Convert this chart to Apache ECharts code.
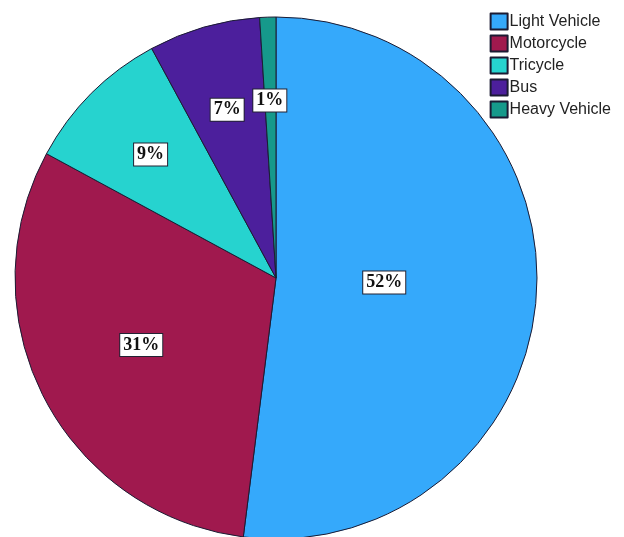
<!DOCTYPE html>
<html><head><meta charset="utf-8">
<script src="https://cdn.jsdelivr.net/npm/echarts@6/dist/echarts.min.js"></script>
<style>html,body{margin:0;padding:0;background:#fff}#c{width:624px;height:537px}</style>
</head><body><div id="c"></div>
<script>
const categories = ["Light Vehicle", "Motorcycle", "Tricycle", "Bus", "Heavy Vehicle"];
const values = [52.0, 30.9, 9.2, 6.9, 1.0];
const labels = ["52%", "31%", "9%", "7%", "1%"];
const colors = ["#35a9fb", "#a0194e", "#26d3cf", "#4c1f9c", "#16998b"];
const labelOffsets = [[-25, -4], [-16, 6], [-31, -29], [-12, -40], [-2, -44]];

const chart = echarts.init(document.getElementById('c'), null, {renderer: 'canvas'});
chart.setOption({
  animation: false,
  legend: {
    orient: 'vertical', right: 8, top: 7.5, itemGap: 4,
    itemWidth: 17, itemHeight: 16, icon: 'rect',
    textStyle: {fontFamily: 'Liberation Sans, Arial', fontSize: 16, color: '#222', padding: [0,0,0,-3]},
    data: categories
  },
  series: [{
    type: 'pie', center: [276, 278], radius: 261, startAngle: 90, clockwise: true,
    avoidLabelOverlap: false,
    itemStyle: {borderColor: '#1b1b33', borderWidth: 1},
    label: {
      position: 'inside',
      fontFamily: 'Liberation Serif, Times New Roman, serif', fontSize: 18, fontWeight: 'bold', color: '#111',
      backgroundColor: '#fff', borderColor: '#223', borderWidth: 1, padding: [3, 3, 1, 3],
      formatter: p => labels[p.dataIndex]
    },
    labelLine: {show: false},
    emphasis: {disabled: true},
    data: categories.map((n, i) => ({
      name: n, value: values[i],
      itemStyle: {color: colors[i]},
      label: {offset: labelOffsets[i]}
    }))
  }]
});
</script></body></html>
